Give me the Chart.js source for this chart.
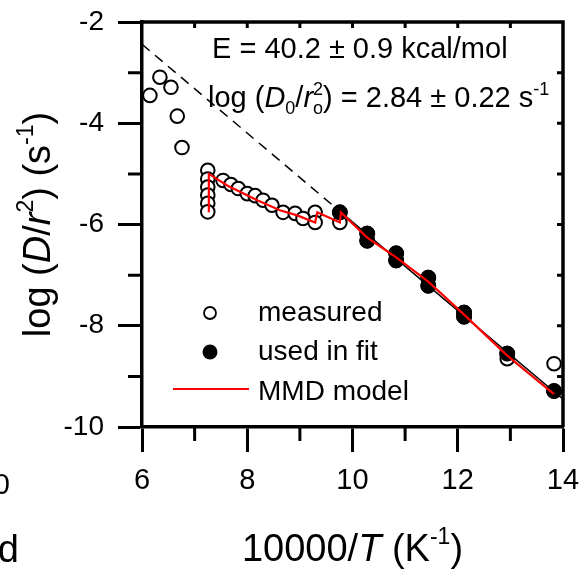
<!DOCTYPE html>
<html>
<head>
<meta charset="utf-8">
<script src="https://cdn.jsdelivr.net/npm/chart.js@4.4.0/dist/chart.umd.min.js"></script>
<style>
  html, body { margin: 0; padding: 0; background: #fff; }
</style>
</head>
<body>
<canvas id="arrhenius" width="586" height="571"></canvas>
<script>
// measured diffusion data (open circles)
const measuredX = [6.15, 6.34, 6.55, 6.67, 6.76,
  7.25, 7.25, 7.25, 7.25, 7.25, 7.25,
  7.54, 7.69, 7.83, 8.00, 8.15, 8.30, 8.47, 8.68, 8.91, 9.06, 9.29, 9.29,
  9.76, 9.76, 10.28, 10.28, 10.83, 10.83, 11.44, 11.44, 12.12, 12.12, 12.94, 12.94, 13.83, 13.83];
const measuredY = [-3.45, -3.09, -3.29, -3.86, -4.48,
  -4.93, -5.10, -5.26, -5.42, -5.58, -5.75,
  -5.13, -5.21, -5.29, -5.39, -5.43, -5.52, -5.62, -5.76, -5.78, -5.88, -5.76, -5.96,
  -5.96, -5.76, -6.18, -6.32, -6.57, -6.71, -7.05, -7.21, -7.74, -7.82, -8.55, -8.65, -8.75, -9.29];

// points used in the Arrhenius fit (filled circles)
const fitPtsX = [9.76, 10.28, 10.28, 10.83, 10.83, 11.44, 11.44, 12.12, 12.12, 12.94, 13.83];
const fitPtsY = [-5.76, -6.18, -6.32, -6.57, -6.71, -7.05, -7.21, -7.74, -7.82, -8.55, -9.29];

// regression line: dashed extrapolation + solid fitted range
const extrapX = [6, 9.76];
const extrapY = [-2.44, -5.74];
const fitLineX = [9.76, 14];
const fitLineY = [-5.74, -9.45];

// MMD model curve (red)
const modelX = [7.27, 7.27, 7.62, 8.19, 8.62, 8.95, 9.29, 9.33, 9.76, 9.78, 10.28, 10.83, 11.44, 12.12, 12.94, 13.83];
const modelY = [-5.76, -5.0, -5.23, -5.52, -5.72, -5.82, -5.96, -5.76, -5.96, -5.76, -6.26, -6.65, -7.13, -7.78, -8.59, -9.35];

const xTicks = [6, 8, 10, 12, 14];
const yTicks = [-10, -8, -6, -4, -2];

const pts = (xs, ys) => xs.map((x, i) => ({ x: x, y: ys[i] }));

function font(size, italic) {
  return (italic ? 'italic ' : '') + size + 'px "Liberation Sans", Arial, sans-serif';
}

// draw a string made of several styled pieces (italics, sub/superscripts)
function drawRuns(ctx, parts, x, y, align) {
  let w = 0;
  parts.forEach(p => {
    ctx.font = font(p.s, p.i);
    p.w = p.noAdv ? 0 : ctx.measureText(p.t).width;
    w += p.w;
  });
  let cx = align === 'center' ? x - w / 2 : x;
  parts.forEach(p => {
    ctx.font = font(p.s, p.i);
    ctx.fillText(p.t, cx, y + (p.dy || 0));
    cx += p.w;
  });
}

const decor = {
  id: 'decor',
  afterDraw(chart) {
    const ctx = chart.ctx;
    const xs = chart.scales.x, ys = chart.scales.y;
    const a = chart.chartArea;
    ctx.save();
    ctx.strokeStyle = '#000';
    ctx.fillStyle = '#000';
    ctx.lineCap = 'butt';

    // top and right frame
    ctx.lineWidth = 3.5;
    ctx.beginPath();
    ctx.moveTo(a.left, a.top);
    ctx.lineTo(a.right, a.top);
    ctx.lineTo(a.right, a.bottom);
    ctx.stroke();

    // minor ticks (outside) and inner ticks on top/right
    ctx.lineWidth = 3;
    ctx.beginPath();
    for (let v = 7; v <= 13; v += 2) {
      const px = xs.getPixelForValue(v);
      ctx.moveTo(px, a.bottom);
      ctx.lineTo(px, a.bottom + 14);
    }
    for (let v = -9; v <= -3; v += 2) {
      const py = ys.getPixelForValue(v);
      ctx.moveTo(a.left, py);
      ctx.lineTo(a.left - 14, py);
    }
    for (let v = 7; v <= 13; v++) {
      const px = xs.getPixelForValue(v);
      ctx.moveTo(px, a.top);
      ctx.lineTo(px, a.top + 6);
    }
    for (let v = -9; v <= -3; v++) {
      const py = ys.getPixelForValue(v);
      ctx.moveTo(a.right, py);
      ctx.lineTo(a.right - 6, py);
    }
    ctx.stroke();

    ctx.textAlign = 'left';
    ctx.textBaseline = 'alphabetic';

    // annotations
    drawRuns(ctx, [{ t: 'E = 40.2 \u00b1 0.9 kcal/mol', s: 29 }], 212, 58);
    drawRuns(ctx, [
      { t: 'log (', s: 29 },
      { t: 'D', s: 29, i: true },
      { t: '0', s: 18, dy: 7 },
      { t: '/', s: 29 },
      { t: 'r', s: 29, i: true },
      { t: 'o', s: 18, dy: 7, noAdv: true },
      { t: '2', s: 18, dy: -12 },
      { t: ') = 2.84 \u00b1 0.22 s', s: 29 },
      { t: '-1', s: 18, dy: -12 }
    ], 208, 107);

    // legend
    ctx.lineWidth = 1.8;
    ctx.beginPath();
    ctx.arc(210, 313, 6, 0, Math.PI * 2);
    ctx.fillStyle = '#fff';
    ctx.fill();
    ctx.stroke();
    ctx.fillStyle = '#000';
    ctx.beginPath();
    ctx.arc(210, 352, 7.5, 0, Math.PI * 2);
    ctx.fill();
    ctx.strokeStyle = '#ff0000';
    ctx.lineWidth = 2;
    ctx.beginPath();
    ctx.moveTo(173, 389);
    ctx.lineTo(249, 389);
    ctx.stroke();
    drawRuns(ctx, [{ t: 'measured', s: 28 }], 258, 321);
    drawRuns(ctx, [{ t: 'used in fit', s: 28 }], 258, 360);
    drawRuns(ctx, [{ t: 'MMD model', s: 28 }], 258, 400);

    // axis titles
    const midX = (a.left + a.right) / 2;
    drawRuns(ctx, [
      { t: '10000/', s: 38 },
      { t: 'T', s: 38, i: true },
      { t: ' (K', s: 38 },
      { t: '-1', s: 23, dy: -17 },
      { t: ')', s: 38 }
    ], midX, 561, 'center');

    const midY = (a.top + a.bottom) / 2;
    ctx.save();
    ctx.translate(50, midY);
    ctx.rotate(-Math.PI / 2);
    drawRuns(ctx, [
      { t: 'log (', s: 38 },
      { t: 'D', s: 38, i: true },
      { t: '/', s: 38 },
      { t: 'r', s: 38, i: true },
      { t: '2', s: 23, dy: -17 },
      { t: ') (s', s: 38 },
      { t: '-1', s: 23, dy: -17 },
      { t: ')', s: 38 }
    ], 0, 0, 'center');
    ctx.restore();

    // clipped pieces of the neighbouring panel
    ctx.textAlign = 'right';
    ctx.font = font(29);
    ctx.fillText('10', 10, 494);
    ctx.font = font(38);
    ctx.fillText('d', 19, 562);
    ctx.restore();
  }
};

new Chart(document.getElementById('arrhenius').getContext('2d'), {
  type: 'scatter',
  data: {
    datasets: [
      {
        label: 'MMD model',
        data: pts(modelX, modelY),
        showLine: true,
        borderColor: '#ff0000',
        borderWidth: 2.2,
        pointRadius: 0,
        tension: 0,
        order: 0
      },
      {
        label: 'used in fit',
        data: pts(fitPtsX, fitPtsY),
        backgroundColor: '#000',
        borderColor: '#000',
        borderWidth: 1,
        pointRadius: 7.5,
        order: 1
      },
      {
        label: 'measured',
        data: pts(measuredX, measuredY),
        backgroundColor: '#fff',
        borderColor: '#000',
        borderWidth: 2,
        pointRadius: 6.8,
        order: 2
      },
      {
        label: 'fit',
        data: pts(fitLineX, fitLineY),
        showLine: true,
        borderColor: '#000',
        borderWidth: 1.5,
        pointRadius: 0,
        order: 3
      },
      {
        label: 'extrapolation',
        data: pts(extrapX, extrapY),
        showLine: true,
        borderColor: '#000',
        borderWidth: 1.5,
        borderDash: [10, 7],
        pointRadius: 0,
        order: 3
      }
    ]
  },
  options: {
    responsive: false,
    animation: false,
    devicePixelRatio: 1,
    layout: { padding: { top: 22, right: 23, left: 0, bottom: 0 } },
    plugins: { legend: { display: false }, tooltip: { enabled: false } },
    scales: {
      x: {
        type: 'linear',
        min: 6,
        max: 14,
        afterFit: s => { s.height = 144; s.paddingLeft = 0; s.paddingRight = 0; },
        afterBuildTicks: s => { s.ticks = xTicks.map(v => ({ value: v })); },
        ticks: { color: '#000', font: { family: '"Liberation Sans", Arial', size: 29 }, padding: 12, maxRotation: 0 },
        grid: { drawOnChartArea: false, drawTicks: true, tickLength: 25, tickWidth: 3, tickColor: '#000' },
        border: { display: true, color: '#000', width: 3.5 }
      },
      y: {
        type: 'linear',
        min: -10,
        max: -2,
        afterFit: s => { s.width = 142; s.paddingTop = 0; s.paddingBottom = 0; },
        afterBuildTicks: s => { s.ticks = yTicks.map(v => ({ value: v })); },
        ticks: { color: '#000', font: { family: '"Liberation Sans", Arial', size: 28 }, padding: 14 },
        grid: { drawOnChartArea: false, drawTicks: true, tickLength: 24, tickWidth: 3, tickColor: '#000' },
        border: { display: true, color: '#000', width: 3.5 }
      }
    }
  },
  plugins: [decor]
});
</script>
</body>
</html>
